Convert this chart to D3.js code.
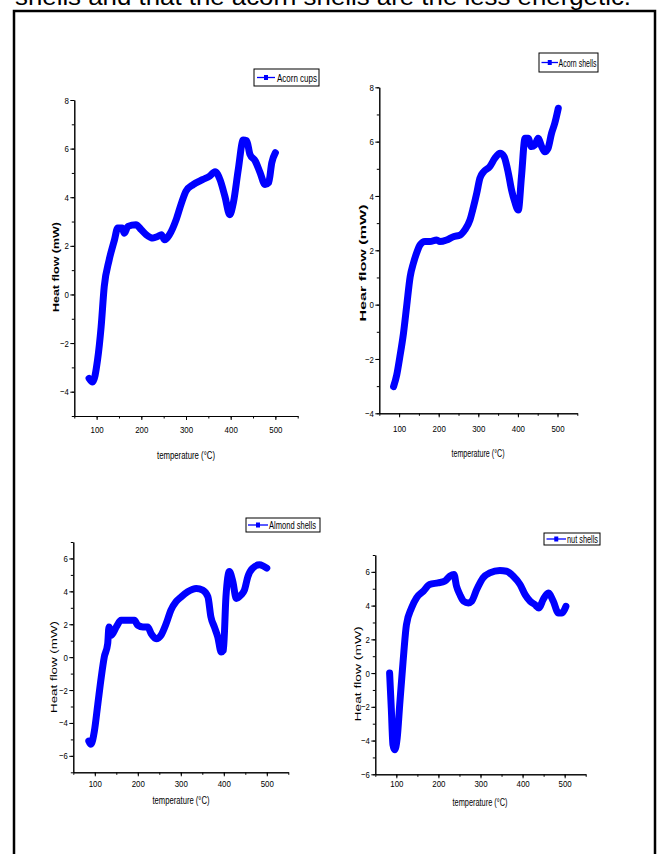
<!DOCTYPE html>
<html>
<head>
<meta charset="utf-8">
<script src="https://cdn.jsdelivr.net/npm/d3@7"></script>
<style>
  body { margin: 0; background: #fff; }
  svg { display: block; }
</style>
</head>
<body>
<svg id="chart" width="662" height="854"></svg>
<script>
// DSC curves: temperature (°C) and heat flow (mW)
var cupsTemp = [83, 91, 102, 110, 117, 128, 140, 147, 157, 162, 170, 188, 200, 211, 226, 237, 245, 252, 263, 278, 290, 300, 316, 338, 353, 365, 376, 387, 398, 406, 417, 428, 436, 443, 455, 466, 477, 485, 492, 500];
var cupsFlow = [-3.45, -3.6, -2.7, -1.34, 0.32, 1.42, 2.25, 2.73, 2.73, 2.52, 2.8, 2.87, 2.66, 2.46, 2.32, 2.39, 2.46, 2.25, 2.46, 3.08, 3.77, 4.25, 4.52, 4.73, 4.87, 5.05, 4.73, 4.04, 3.28, 3.77, 5.14, 6.35, 6.32, 5.77, 5.49, 5.0, 4.52, 4.6, 5.42, 5.83];

var shellsTemp = [86, 94, 102, 111, 119, 128, 136, 144, 153, 165, 178, 195, 203, 220, 237, 254, 266, 279, 287, 296, 304, 314, 329, 342, 355, 365, 376, 384, 392, 401, 409, 418, 426, 434, 443, 451, 460, 468, 476, 485, 493, 502];
var shellsFlow = [-3.02, -2.59, -1.91, -1.06, -0.07, 1.03, 1.52, 1.89, 2.2, 2.32, 2.32, 2.38, 2.32, 2.38, 2.5, 2.56, 2.75, 3.12, 3.55, 4.1, 4.65, 4.9, 5.08, 5.39, 5.57, 5.45, 4.83, 4.22, 3.79, 3.48, 4.71, 6.12, 6.12, 5.82, 5.88, 6.12, 5.82, 5.63, 5.75, 6.31, 6.67, 7.23];

var almondTemp = [86, 91, 99, 107, 115, 122, 130, 133, 138, 150, 161, 177, 192, 200, 212, 223, 231, 243, 254, 266, 277, 289, 301, 316, 336, 351, 363, 370, 378, 386, 394, 399, 405, 413, 421, 429, 440, 448, 456, 467, 483, 491, 500];
var almondFlow = [-5.1, -5.3, -4.5, -2.86, -1.22, 0, 0.82, 1.84, 1.33, 1.84, 2.24, 2.24, 2.24, 1.94, 1.84, 1.84, 1.43, 1.12, 1.33, 2.04, 2.86, 3.37, 3.67, 3.98, 4.18, 4.08, 3.67, 2.45, 1.84, 1.22, 0.31, 0.41, 3.67, 5.2, 4.59, 3.57, 3.78, 4.08, 4.9, 5.41, 5.61, 5.55, 5.41];

var nutTemp = [84, 88, 92, 96, 102, 108, 116, 124, 136, 148, 164, 179, 199, 215, 227, 237, 243, 251, 260, 271, 279, 291, 306, 322, 346, 362, 378, 394, 406, 418, 429, 439, 449, 461, 473, 485, 493, 503];
var nutFlow = [0, -2.08, -4.26, -4.55, -3.86, -1.88, 0.69, 2.87, 3.86, 4.46, 4.85, 5.25, 5.35, 5.45, 5.74, 5.84, 5.15, 4.65, 4.26, 4.16, 4.26, 4.95, 5.64, 5.94, 6.08, 6.04, 5.74, 5.25, 4.65, 4.26, 4.06, 3.86, 4.36, 4.75, 4.26, 3.56, 3.56, 3.96];

var tempTicks = [100, 200, 300, 400, 500];
var tempMinor = d3.range(50, 551, 50);

var narrow = "'Liberation Sans Narrow','Arial Narrow','Liberation Sans',Arial,sans-serif";
var sans = "'Liberation Sans',Arial,sans-serif";

var svg = d3.select("#chart");

// cut-off line of body text above the figure
svg.append("text")
  .attr("x", 15)
  .attr("y", 5)
  .attr("font-family", sans)
  .attr("font-size", 23)
  .attr("fill", "#000")
  .attr("textLength", 616)
  .attr("lengthAdjust", "spacingAndGlyphs")
  .text("shells and that the acorn shells are the less energetic.");

svg.append("rect")
  .attr("x", 14)
  .attr("y", 11)
  .attr("width", 641)
  .attr("height", 870)
  .attr("fill", "none")
  .attr("stroke", "#000")
  .attr("stroke-width", 2.5);

var panels = [
  { temp: cupsTemp, flow: cupsFlow, name: "Acorn cups", yLabel: "Heat flow (mW)",
    left: 74.3, right: 297.7, top: 100, bottom: 416, yDomain: [-5, 8], yTicks: [-4, -2, 0, 2, 4, 6, 8],
    xPad: 6, yLabelX: 55, yLabelY: 267, yLabelLen: 90, bold: true, xLabelX: 186, xLabelY: 455, xLabelLen: 58,
    legend: { x: 254, y: 69, w: 65, h: 17, l1: 257, l2: 275, tx: 277, tl: 40 } },
  { temp: shellsTemp, flow: shellsFlow, name: "Acorn shells", yLabel: "Hear flow (mW)",
    left: 379.3, right: 577.3, top: 87.3, bottom: 413.3, yDomain: [-4, 8], yTicks: [-4, -2, 0, 2, 4, 6, 8],
    xPad: 8, yLabelX: 362, yLabelY: 263, yLabelLen: 117, bold: true, xLabelX: 478, xLabelY: 453, xLabelLen: 53,
    legend: { x: 539, y: 53, w: 59, h: 19, l1: 541.5, l2: 558, tx: 558.5, tl: 38 } },
  { temp: almondTemp, flow: almondFlow, name: "Almond shells", yLabel: "Heat flow (mW)",
    left: 73.3, right: 288.3, top: 542, bottom: 772.3, yDomain: [-7, 7], yTicks: [-6, -4, -2, 0, 2, 4, 6],
    xPad: 4, yLabelX: 53.5, yLabelY: 667, yLabelLen: 92, bold: false, xLabelX: 181, xLabelY: 799.5, xLabelLen: 57,
    legend: { x: 246, y: 518, w: 74, h: 14, l1: 248, l2: 268, tx: 269, tl: 47 } },
  { temp: nutTemp, flow: nutFlow, name: "nut shells", yLabel: "Heat flow (mW)",
    left: 375.3, right: 585.7, top: 555, bottom: 774.3, yDomain: [-6, 7], yTicks: [-6, -4, -2, 0, 2, 4, 6],
    xPad: 1.5, yLabelX: 357, yLabelY: 674, yLabelLen: 95, bold: false, xLabelX: 480, xLabelY: 802, xLabelLen: 55,
    legend: { x: 544, y: 533, w: 56, h: 12, l1: 546.5, l2: 566, tx: 567, tl: 31 } }
];

function styleTicks(sel) {
  sel.selectAll(".tick text")
    .attr("font-family", narrow)
    .attr("font-size", 9.5)
    .attr("fill", "#000")
    .attr("textLength", function() { return this.textContent.length * 4.4; })
    .attr("lengthAdjust", "spacingAndGlyphs");
  sel.selectAll(".tick line").attr("stroke", "#000");
  sel.select(".domain").attr("stroke", "#000");
}

panels.forEach(function(p) {
  var x = d3.scaleLinear().domain([50, 550]).range([p.left, p.right]);
  var y = d3.scaleLinear().domain(p.yDomain).range([p.bottom, p.top]);
  var g = svg.append("g");

  // minor ticks first, then the labelled ones
  g.append("g")
    .attr("transform", "translate(0," + p.bottom + ")")
    .call(d3.axisBottom(x).tickValues(tempMinor).tickSize(2.5).tickSizeOuter(0).tickFormat(""))
    .call(styleTicks);
  g.append("g")
    .attr("transform", "translate(0," + p.bottom + ")")
    .call(d3.axisBottom(x).tickValues(tempTicks).tickSize(4).tickSizeOuter(0).tickPadding(p.xPad).tickFormat(d3.format("d")))
    .call(styleTicks);

  g.append("g")
    .attr("transform", "translate(" + p.left + ",0)")
    .call(d3.axisLeft(y).tickValues(d3.range(p.yDomain[0], p.yDomain[1] + 1)).tickSize(2.5).tickSizeOuter(0).tickFormat(""))
    .call(styleTicks);
  g.append("g")
    .attr("transform", "translate(" + p.left + ",0)")
    .call(d3.axisLeft(y).tickValues(p.yTicks).tickSize(4).tickSizeOuter(0).tickPadding(1.5).tickFormat(d3.format("d")))
    .call(styleTicks);

  var pts = p.temp.map(function(t, i) { return { t: t, v: p.flow[i] }; });
  var line = d3.line()
    .curve(d3.curveMonotoneX)
    .x(function(d) { return x(d.t); })
    .y(function(d) { return y(d.v); });

  g.append("path")
    .attr("fill", "none")
    .attr("stroke", "#0000ff")
    .attr("stroke-width", 7)
    .attr("stroke-linejoin", "round")
    .attr("stroke-linecap", "round")
    .attr("d", line(pts));

  g.append("text")
    .attr("transform", "translate(" + p.yLabelX + "," + p.yLabelY + ") rotate(-90)")
    .attr("text-anchor", "middle")
    .attr("dominant-baseline", "central")
    .attr("font-family", sans)
    .attr("font-size", 9.5)
    .attr("font-weight", p.bold ? "bold" : "normal")
    .attr("fill", "#000")
    .attr("textLength", p.yLabelLen)
    .attr("lengthAdjust", "spacingAndGlyphs")
    .text(p.yLabel);

  g.append("text")
    .attr("x", p.xLabelX)
    .attr("y", p.xLabelY)
    .attr("text-anchor", "middle")
    .attr("dominant-baseline", "central")
    .attr("font-family", narrow)
    .attr("font-size", 10.5)
    .attr("fill", "#000")
    .attr("textLength", p.xLabelLen)
    .attr("lengthAdjust", "spacingAndGlyphs")
    .text("temperature (°C)");

  var lg = p.legend;
  var ly = lg.y + lg.h / 2;
  g.append("rect")
    .attr("x", lg.x).attr("y", lg.y)
    .attr("width", lg.w).attr("height", lg.h)
    .attr("fill", "#fff")
    .attr("stroke", "#000")
    .attr("stroke-width", 1);
  g.append("line")
    .attr("x1", lg.l1).attr("x2", lg.l2)
    .attr("y1", ly).attr("y2", ly)
    .attr("stroke", "#0000ff")
    .attr("stroke-width", 1.3);
  g.append("rect")
    .attr("x", (lg.l1 + lg.l2) / 2 - 2).attr("y", ly - 2.5)
    .attr("width", 4).attr("height", 5)
    .attr("fill", "#0000ff");
  g.append("text")
    .attr("x", lg.tx)
    .attr("y", ly)
    .attr("dominant-baseline", "central")
    .attr("font-family", narrow)
    .attr("font-size", 10.5)
    .attr("fill", "#000")
    .attr("textLength", lg.tl)
    .attr("lengthAdjust", "spacingAndGlyphs")
    .text(p.name);
});
</script>
</body>
</html>
